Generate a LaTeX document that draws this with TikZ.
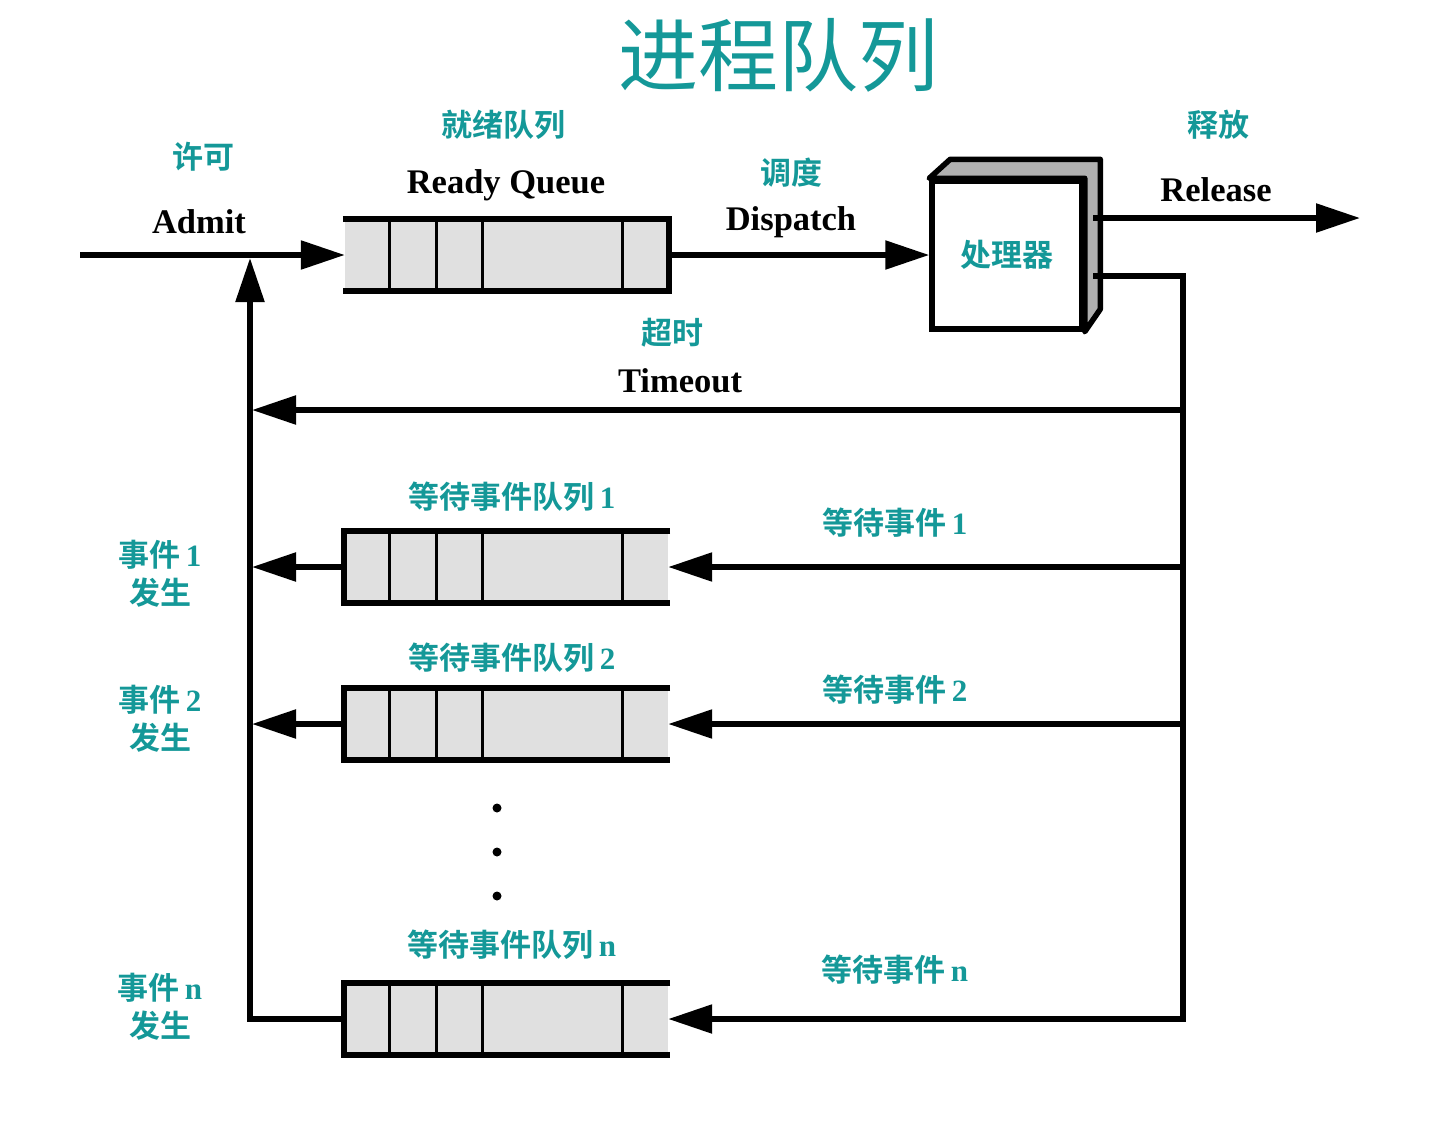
\documentclass[tikz,border=0pt]{standalone}
\usepackage{fontspec}
\setmainfont{Liberation Serif}
\newfontfamily\cjk{Noto Sans CJK SC}[BoldFont={Noto Sans CJK SC Bold}]
\usetikzlibrary{arrows.meta}
\definecolor{teal2}{RGB}{20,152,152}
\definecolor{qgray}{RGB}{224,224,224}
\definecolor{sgray}{RGB}{176,176,176}
\newcommand{\C}[1]{{\cjk #1}}
\begin{document}
\begin{tikzpicture}[x=1pt,y=-1pt,
 line/.style={line width=5.5pt},
 tip/.style={-{Triangle[length=44pt,width=28pt]}},
 queue/.style={fill=qgray, minimum width=324pt, minimum height=72pt, inner sep=0pt, draw=none},
 bar/.style={line width=6pt},
 div/.style={line width=3pt},
 en/.style={font=\bfseries\fontsize{34.5}{36}\selectfont, inner sep=0pt},
 cn/.style={font=\bfseries\fontsize{31}{38}\selectfont, text=teal2, inner sep=0pt, align=center},
 dot/.style={circle, fill=black, inner sep=0pt, minimum size=9pt},
]
\useasboundingbox (0,0) rectangle (1440,1122);

% title
\node[font=\cjk\fontsize{80}{84}\selectfont, text=teal2] (title) at (778,55) {进程队列};

% ready queue
\node[queue] (rq) at (507,255) {};
\draw[bar, line join=miter] ([xshift=-2pt]rq.north west) -- (rq.north east) -- (rq.south east) -- ([xshift=-2pt]rq.south west);
\foreach \d in {45,92,138,278} \draw[div] ([xshift=\d pt]rq.north west) -- ([xshift=\d pt]rq.south west);

% wait queues
\foreach \n/\y in {wq1/567, wq2/724, wqn/1019} {
  \node[queue] (\n) at (506,\y) {};
  \draw[bar, line join=miter] ([xshift=2pt]\n.north east) -- (\n.north west) -- (\n.south west) -- ([xshift=2pt]\n.south east);
  \foreach \d in {46,93,139,279} \draw[div] ([xshift=\d pt]\n.north west) -- ([xshift=\d pt]\n.south west);
}

% processor
\node[draw, line width=5.5pt, fill=white, minimum width=150pt, minimum height=148pt, inner sep=0pt,
      font=\cjk\bfseries\fontsize{31}{36}\selectfont, text=teal2] (cpu) at (1007,255) {处理器};
\draw[line, fill=sgray, line join=round] (cpu.north west) -- ++(21,-19) -- ++(150,0) -- ++(0,150) -- (cpu.south east) -- (cpu.north east) -- cycle;

% coordinates
\coordinate (start) at (80,255);
\coordinate (out1) at (1093,218);
\coordinate (out2) at (1093,276);
\coordinate (rel) at (1360,218);
\coordinate (bt) at (1183,410);
\coordinate (lt) at (252,410);
\coordinate (b1) at (1183,567);
\coordinate (b2) at (1183,724);
\coordinate (bn) at (1183,1019);
\coordinate (l1) at (252,567);
\coordinate (l2) at (252,724);
\coordinate (ad) at (250,258);

% connectors
\draw[line, tip] (start) -- (rq.west);
\draw[line, tip] (rq.east) -- (cpu.west);
\draw[line, tip] (out1) -- (rel);
\draw[line, tip, line join=miter] (out2) -| (bn) -- (wqn.east);
\draw[line, tip] (bt) -- (lt);
\draw[line, tip] (b1) -- (wq1.east);
\draw[line, tip] (b2) -- (wq2.east);
\draw[line, tip] (wq1.west) -- (l1);
\draw[line, tip] (wq2.west) -- (l2);
\draw[line, tip, line join=miter] (wqn.west) -| (ad);

% dots
\node[dot] (d1) at (497,808) {};
\node[dot] (d2) at (497,852) {};
\node[dot] (d3) at (497,896) {};

% labels
\node[cn] (admitcn) at (203,157) {\C{许可}};
\node[en] (admit) at (199,222) {Admit};
\node[cn] (rqcn) at (503,125) {\C{就绪队列}};
\node[en] (rqen) at (506,185) {Ready Queue};
\node[cn] (dcn) at (791,173) {\C{调度}};
\node[en] (den) at (791,222) {Dispatch};
\node[cn] (relcn) at (1218,125) {\C{释放}};
\node[en] (relen) at (1216,190) {Release};
\node[cn] (tocn) at (672,333) {\C{超时}};
\node[en] (toen) at (680,381) {Timeout};

\node[cn] (q1l) at (512,497) {\C{等待事件队列}\,1};
\node[cn] (q2l) at (512,658) {\C{等待事件队列}\,2};
\node[cn] (qnl) at (512,945) {\C{等待事件队列}\,n};
\node[cn] (w1l) at (895,523) {\C{等待事件}\,1};
\node[cn] (w2l) at (895,690) {\C{等待事件}\,2};
\node[cn] (wnl) at (895,970) {\C{等待事件}\,n};
\node[cn] (e1l) at (160,574) {\C{事件}\,1\\\C{发生}};
\node[cn] (e2l) at (160,719) {\C{事件}\,2\\\C{发生}};
\node[cn] (enl) at (160,1007) {\C{事件}\,n\\\C{发生}};
\end{tikzpicture}
\end{document}
